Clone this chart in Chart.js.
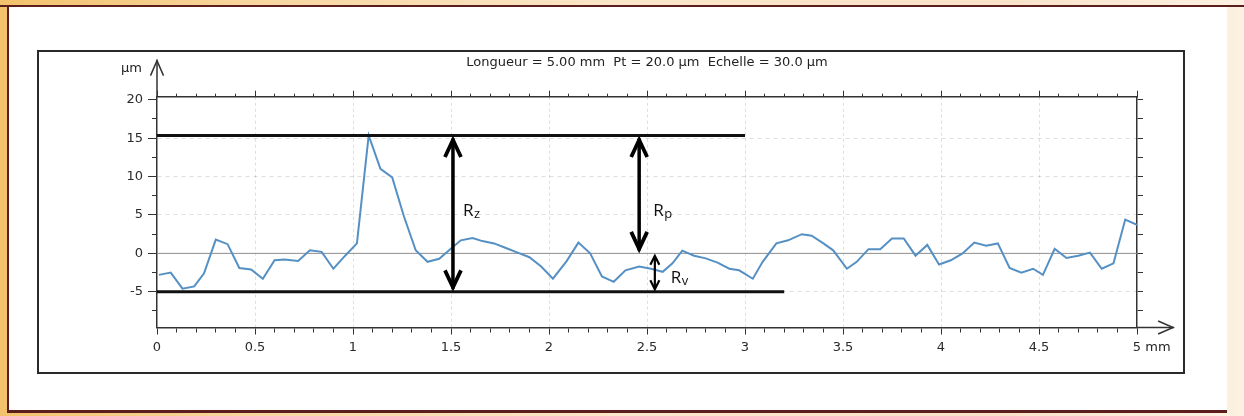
<!DOCTYPE html>
<html>
<head>
<meta charset="utf-8">
<title>Profil de rugosité</title>
<script src="https://cdn.jsdelivr.net/npm/chart.js@4.4.1/dist/chart.umd.min.js"></script>
<style>
  body { margin: 0; width: 1244px; height: 416px; overflow: hidden; position: relative;
    background: linear-gradient(90deg, #f3c16b 0%, #f7d69e 20%, #fae6c9 50%, #f8e2c8 80%, #fcf1e2 100%); }
  #topline { position: absolute; left: 0; top: 5px; width: 1244px; height: 2px; background: #5c1d1d; }
  #panel { position: absolute; left: 7px; top: 5px; width: 1218px; height: 403px; background: #fff;
    border-left: 2px solid #5c1d1d; border-top: 2px solid #5c1d1d; border-bottom: 3px solid #5c1d1d; }
  #frame { position: absolute; left: 37px; top: 50px; width: 1144px; height: 320px; border: 2px solid #2a2a2a; }
  canvas { position: absolute; left: 0; top: 0; }
</style>
</head>
<body>
<div id="panel"></div>
<div id="topline"></div>
<div id="frame"></div>
<canvas id="profil" width="1244" height="416"></canvas>
<script>
// profile: position along the trace (mm) and height (µm)
const xMm = [0.01, 0.07, 0.13, 0.19, 0.24, 0.30, 0.36, 0.42, 0.48, 0.54,
             0.60, 0.65, 0.72, 0.78, 0.84, 0.90, 0.96, 1.02, 1.08, 1.14,
             1.20, 1.26, 1.32, 1.38, 1.44, 1.49, 1.55, 1.61, 1.66, 1.72,
             1.78, 1.84, 1.90, 1.96, 2.02, 2.09, 2.15, 2.21, 2.27, 2.33,
             2.39, 2.46, 2.52, 2.58, 2.63, 2.68, 2.74, 2.80, 2.86, 2.92,
             2.97, 3.04, 3.09, 3.16, 3.22, 3.29, 3.34, 3.40, 3.45, 3.52,
             3.57, 3.63, 3.69, 3.75, 3.81, 3.87, 3.93, 3.99, 4.05, 4.11,
             4.17, 4.23, 4.29, 4.35, 4.41, 4.47, 4.52, 4.58, 4.64, 4.70,
             4.76, 4.82, 4.88, 4.94, 5.00];
const zUm = [-2.8, -2.5, -4.6, -4.3, -2.6, 1.8, 1.2, -1.9, -2.1, -3.3,
             -0.9, -0.8, -1.0, 0.4, 0.2, -2.0, -0.3, 1.3, 15.35, 11.0,
             9.9, 4.8, 0.4, -1.1, -0.7, 0.4, 1.7, 2.0, 1.6, 1.3,
             0.7, 0.1, -0.5, -1.7, -3.3, -1.0, 1.4, 0.0, -3.0, -3.7,
             -2.2, -1.7, -2.0, -2.4, -1.3, 0.35, -0.3, -0.65, -1.2, -2.0,
             -2.2, -3.3, -1.1, 1.3, 1.7, 2.5, 2.3, 1.3, 0.4, -2.0,
             -1.1, 0.55, 0.55, 1.95, 1.95, -0.3, 1.1, -1.45, -0.9, 0.0,
             1.4, 1.0, 1.3, -1.9, -2.5, -2.0, -2.8, 0.6, -0.6, -0.3,
             0.1, -2.0, -1.3, 4.4, 3.7];

// tick positions of the height axis (µm)
const Y_TICKS = [-7.5, -5, -2.5, 0, 2.5, 5, 7.5, 10, 12.5, 15, 17.5, 20];

// reference levels
const PEAK = 15.35;
const VALLEY = -5;
const MEAN = 0;
const PEAK_LINE_X = [0, 3.0];
const VALLEY_LINE_X = [0, 3.2];
const MEAN_LINE_X = [0, 5];

// Rz, Rp, Rv arrows
const R_NAMES = ['z', 'p', 'v'];
const R_AT = [1.51, 2.46, 2.54];
const R_FROM = [PEAK, PEAK, MEAN];
const R_TO = [VALLEY, MEAN, VALLEY];

const TITLE = 'Longueur = 5.00 mm  Pt = 20.0 µm  Echelle = 30.0 µm';

// placement of the R labels (px to the right of the arrow, height in µm)
const R_LABEL_DX = [10, 14, 16];
const R_LABEL_Y = [4.85, 4.85, -3.85];

const AXIS = '#333';
const GRID = 'rgba(0,0,0,0.13)';
const NONE = 'rgba(0,0,0,0)';
const TICK_FONT = { family: 'DejaVu Sans', size: 13 };

function isMult(v, step) {
  return Math.abs(v / step - Math.round(v / step)) < 1e-6;
}

function chevron(ctx, x, y, dir, len, half) {
  // dir -1 : pointing up, 1 : pointing down. tip lands on y
  const ext = (ctx.lineWidth / 2) / Math.sin(Math.atan(half / len));
  const ty = y - dir * ext;
  ctx.beginPath();
  ctx.moveTo(x - half, ty - dir * len);
  ctx.lineTo(x, ty);
  ctx.lineTo(x + half, ty - dir * len);
  ctx.stroke();
}

const decor = {
  id: 'decor',
  afterDatasetsDraw(chart) {
    const { ctx, scales: { x, y } } = chart;
    ctx.save();
    ctx.strokeStyle = '#000';
    ctx.fillStyle = '#111';
    ctx.lineJoin = 'miter';
    R_NAMES.forEach((name, i) => {
      const px = x.getPixelForValue(R_AT[i]);
      const top = y.getPixelForValue(R_FROM[i]);
      const bot = y.getPixelForValue(R_TO[i]);
      const big = name !== 'v';
      ctx.lineWidth = big ? 3.5 : 2.2;
      ctx.beginPath();
      ctx.moveTo(px, top + 3);
      ctx.lineTo(px, bot - 3);
      ctx.stroke();
      ctx.lineWidth = big ? 3.8 : 2.2;
      chevron(ctx, px, top, -1, big ? 17 : 9, big ? 8 : 4.5);
      chevron(ctx, px, bot, 1, big ? 17 : 9, big ? 8 : 4.5);

      const lx = px + R_LABEL_DX[i];
      const ly = y.getPixelForValue(R_LABEL_Y[i]);
      ctx.textAlign = 'left';
      ctx.textBaseline = 'alphabetic';
      ctx.font = '17px "Open Sans"';
      ctx.fillText('R', lx, ly);
      const w = ctx.measureText('R').width;
      ctx.font = '13px "Open Sans"';
      ctx.fillText(name, lx + w + 0.5, ly + 2);
    });
    ctx.restore();
  },
  afterDraw(chart) {
    const { ctx, chartArea: a, scales: { x } } = chart;
    ctx.save();
    ctx.strokeStyle = AXIS;
    ctx.lineWidth = 1.5;
    // y axis goes on up to its arrow
    ctx.beginPath();
    ctx.moveTo(a.left, a.top);
    ctx.lineTo(a.left, a.top - 37);
    ctx.stroke();
    chevron(ctx, a.left, a.top - 38, -1, 15, 6.5);
    // x axis goes on to its arrow
    ctx.beginPath();
    ctx.moveTo(a.right, a.bottom);
    ctx.lineTo(a.right + 37, a.bottom);
    ctx.stroke();
    const ext = 0.75 / Math.sin(Math.atan(6.5 / 15));
    ctx.beginPath();
    ctx.moveTo(a.right + 38 - ext - 15, a.bottom - 6.5);
    ctx.lineTo(a.right + 38 - ext, a.bottom);
    ctx.lineTo(a.right + 38 - ext - 15, a.bottom + 6.5);
    ctx.stroke();

    ctx.fillStyle = '#222';
    ctx.font = '13px "DejaVu Sans"';
    ctx.textBaseline = 'alphabetic';
    ctx.textAlign = 'right';
    ctx.fillText('µm', a.left - 15, a.top - 25);
    ctx.textAlign = 'center';
    ctx.fillText(TITLE, x.getPixelForValue(2.5), a.top - 30.5);

    // unit after the last x label
    const items = x.getLabelItems();
    const last = items[items.length - 1];
    if (last) {
      const [tx, ty] = last.options.translation;
      ctx.textAlign = 'left';
      ctx.textBaseline = last.options.textBaseline;
      ctx.fillText('mm', tx + ctx.measureText('5 ').width - ctx.measureText('5').width / 2, ty + last.textOffset);
    }
    ctx.restore();
  }
};

const onStep = (c, step) => c.tick && isMult(c.tick.value, step);
const useYTicks = s => { s.ticks = Y_TICKS.map(v => ({ value: v })); };

const profil = new Chart(document.getElementById('profil'), {
  type: 'scatter',
  data: {
    datasets: [
      {
        label: 'Pic',
        data: PEAK_LINE_X.map(v => ({ x: v, y: PEAK })),
        showLine: true, borderColor: '#111', borderWidth: 3, pointRadius: 0, order: 1
      },
      {
        label: 'Creux',
        data: VALLEY_LINE_X.map(v => ({ x: v, y: VALLEY })),
        showLine: true, borderColor: '#111', borderWidth: 3, pointRadius: 0, order: 1
      },
      {
        label: 'Profil',
        data: xMm.map((v, i) => ({ x: v, y: zUm[i] })),
        showLine: true, borderColor: '#5590c4', borderWidth: 2, pointRadius: 0, order: 2
      },
      {
        label: 'Ligne moyenne',
        data: MEAN_LINE_X.map(v => ({ x: v, y: MEAN })),
        showLine: true, borderColor: '#8e8e8e', borderWidth: 1, pointRadius: 0, order: 3
      }
    ]
  },
  options: {
    responsive: false,
    animation: false,
    devicePixelRatio: 1,
    layout: { padding: { left: 0, top: 84.7, right: 95, bottom: 58.5 } },
    plugins: { legend: { display: false }, tooltip: { enabled: false } },
    scales: {
      x: {
        type: 'linear', axis: 'x', position: 'bottom', min: 0, max: 5,
        afterFit: s => { s.height = 30; },
        ticks: {
          stepSize: 0.1, autoSkip: false, maxRotation: 0, minRotation: 0, padding: 5,
          font: TICK_FONT, color: '#2a2a2a',
          callback: v => isMult(v, 0.5) ? String(Math.round(v * 10) / 10) : ''
        },
        grid: {
          color: c => (onStep(c, 0.5) && c.tick.value > 0.01 && c.tick.value < 4.99) ? GRID : NONE,
          lineWidth: 1, tickColor: AXIS, tickWidth: 1, tickLength: 7,
          tickBorderDash: c => onStep(c, 0.5) ? [] : [4, 50]
        },
        border: { color: AXIS, width: 1.5, dash: [3, 3] }
      },
      xTop: {
        type: 'linear', axis: 'x', position: 'top', min: 0, max: 5,
        afterFit: s => { s.height = 12; },
        ticks: { stepSize: 0.1, autoSkip: false, maxRotation: 0, callback: () => '' },
        grid: {
          drawOnChartArea: false, color: AXIS, tickColor: AXIS, tickWidth: 1, tickLength: 6,
          tickBorderDash: c => onStep(c, 0.5) ? [] : [0, 3, 3, 50]
        },
        border: { color: AXIS, width: 1.5 }
      },
      y: {
        type: 'linear', axis: 'y', position: 'left', min: -9.65, max: 20.4,
        afterBuildTicks: useYTicks,
        afterFit: s => { s.width = 157; },
        ticks: {
          autoSkip: false, padding: 5,
          font: TICK_FONT, color: '#2a2a2a',
          callback: v => isMult(v, 5) ? String(v) : ''
        },
        grid: {
          color: c => (onStep(c, 5) && c.tick.value !== 0 && c.tick.value < 19) ? GRID : NONE,
          lineWidth: 1, tickWidth: 1, tickLength: 9, tickColor: AXIS,
          tickBorderDash: c => onStep(c, 5) ? [] : [0, 4, 5, 50]
        },
        border: { color: AXIS, width: 1.5, dash: [4, 4] }
      },
      yRight: {
        type: 'linear', axis: 'y', position: 'right', min: -9.65, max: 20.4,
        afterBuildTicks: useYTicks,
        afterFit: s => { s.width = 12; },
        ticks: { autoSkip: false, callback: () => '' },
        grid: { drawOnChartArea: false, color: AXIS, tickWidth: 1, tickLength: 6, tickColor: AXIS },
        border: { color: AXIS, width: 1.5 }
      }
    }
  },
  plugins: [decor]
});
</script>
</body>
</html>
